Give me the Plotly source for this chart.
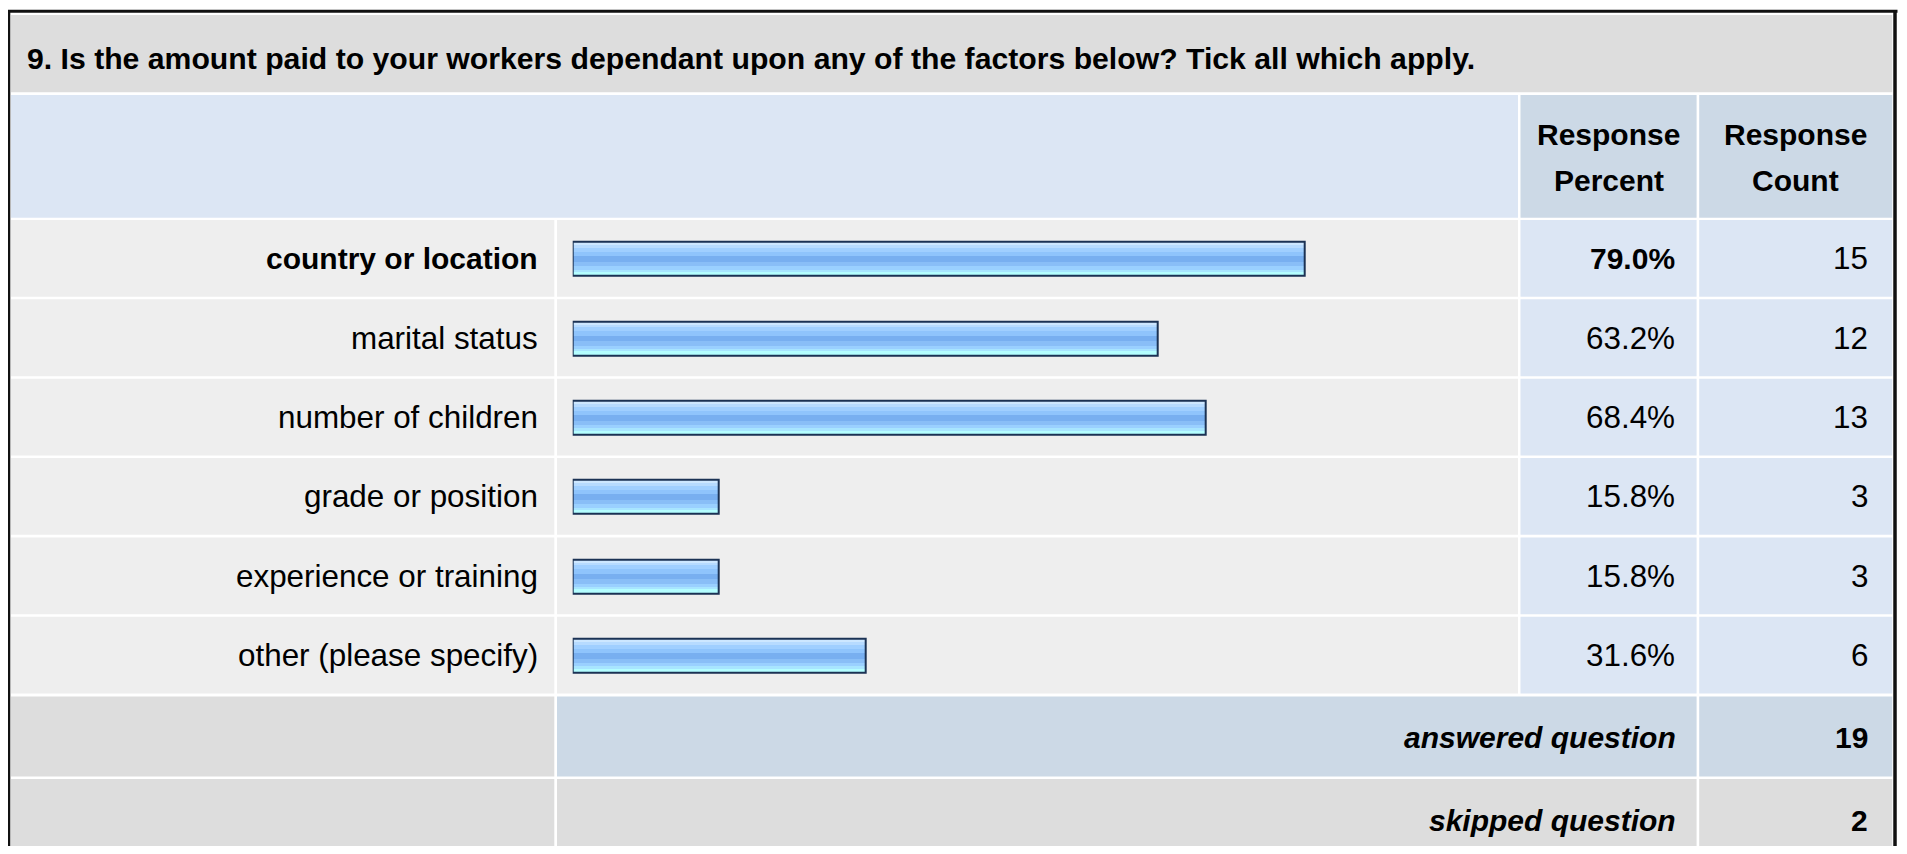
import plotly.graph_objects as go

# ---------------- data ----------------
question = ("9. Is the amount paid to your workers dependant upon any of the "
            "factors below? Tick all which apply.")
categories = ["country or location", "marital status", "number of children",
              "grade or position", "experience or training", "other (please specify)"]
response_percent = [79.0, 63.2, 68.4, 15.8, 15.8, 31.6]
response_count = [15, 12, 13, 3, 3, 6]
answered_question = 19
skipped_question = 2
header_percent = ["Response", "Percent"]
header_count = ["Response", "Count"]

# ---------------- geometry (screen pixels) ----------------
W, H = 1891, 838          # figure size; page body adds an 8px margin
OX, OY = 8, 8


def px(X):
    return (X - OX) / W


def py(Y):
    return 1 - (Y - OY) / H


FONT = "Liberation Sans, Arial, Helvetica, sans-serif"
FS_BOLD = 30
FS_REG = 31.4

C_TITLE = "#DDDDDD"
C_HEAD_L = "#DCE6F4"
C_HEAD_R = "#CCD9E6"
C_ROW = "#EEEEEE"
C_ROW_R = "#DCE6F4"
C_FOOT = "#DDDDDD"
C_FOOT_B = "#CCD9E6"

col1 = (11, 554.3)
col2 = (557, 1518)
col3 = (1520.5, 1696.6)
col4 = (1699.2, 1892.3)
title_y = (15, 92.3)
head_y = (95, 217.7)
row_top0, pitch, row_h = 220.0, 79.35, 76.8
ans_y = (696.6, 776.6)
skip_y = (779.0, 870.0)

shapes = []
annotations = []


def cell(x, y, color):
    shapes.append(dict(type="rect", xref="paper", yref="paper", layer="below",
                       x0=px(x[0]), x1=px(x[1]), y0=py(y[1]), y1=py(y[0]),
                       fillcolor=color, line=dict(width=0)))


def text(s, X, Y, anchor="right", bold=False, italic=False, size=None):
    if size is None:
        size = FS_BOLD if bold else FS_REG
    if bold:
        s = "<b>" + s + "</b>"
    if italic:
        s = "<i>" + s + "</i>"
    annotations.append(dict(text=s, x=px(X), y=py(Y), xref="paper", yref="paper",
                            xanchor=anchor, yanchor="middle", showarrow=False,
                            borderpad=0, borderwidth=0,
                            font=dict(family=FONT, size=size, color="#000000")))


# title band
cell((col1[0], col4[1]), title_y, C_TITLE)
text(question, 27, 58, anchor="left", bold=True, size=30.2)

# header
cell((col1[0], col2[1]), head_y, C_HEAD_L)
cell(col3, head_y, C_HEAD_R)
cell(col4, head_y, C_HEAD_R)
for i, (a, b) in enumerate(zip(header_percent, header_count)):
    yy = 134 + 46.5 * i
    text(a, (col3[0] + col3[1]) / 2, yy, anchor="center", bold=True)
    text(b, (col4[0] + col4[1]) / 2, yy, anchor="center", bold=True)

# data rows
top_pct = max(response_percent)
for i, (cat, p, c) in enumerate(zip(categories, response_percent, response_count)):
    y0 = row_top0 + pitch * i
    y = (y0, y0 + row_h)
    cell(col1, y, C_ROW)
    cell(col2, y, C_ROW)
    cell(col3, y, C_ROW_R)
    cell(col4, y, C_ROW_R)
    yc = y0 + row_h / 2 + 0.5
    b = (p == top_pct)
    text(cat, 537.5, yc, bold=b)
    text(f"{p:.1f}%", 1675, yc, bold=b)
    text(str(c), 1868, yc)

# footer rows
cell(col1, ans_y, C_FOOT)
cell((col2[0], col3[1]), ans_y, C_FOOT_B)
cell(col4, ans_y, C_FOOT_B)
text("answered question", 1676, (ans_y[0] + ans_y[1]) / 2 + 0.5, bold=True, italic=True)
text(str(answered_question), 1868, (ans_y[0] + ans_y[1]) / 2 + 0.5, bold=True)

cell(col1, skip_y, C_FOOT)
cell((col2[0], col3[1]), skip_y, C_FOOT)
cell(col4, skip_y, C_FOOT)
text("skipped question", 1676, 820, bold=True, italic=True)
text(str(skipped_question), 1868, 820, bold=True)

# outer frame
BORDER = "#111111"
shapes.append(dict(type="line", xref="paper", yref="paper", x0=px(5), x1=px(1897.5),
                   y0=py(11.3), y1=py(11.3), line=dict(color=BORDER, width=3)))
shapes.append(dict(type="line", xref="paper", yref="paper", x0=px(8.8), x1=px(8.8),
                   y0=py(10), y1=py(870), line=dict(color=BORDER, width=3)))
shapes.append(dict(type="line", xref="paper", yref="paper", x0=px(1895), x1=px(1895),
                   y0=py(10), y1=py(870), line=dict(color=BORDER, width=3.5)))

# ---------------- bars ----------------
bar_x0 = 572.7          # pixel position of 0 %
px_per_pct = 9.26
bar_x100 = bar_x0 + 100 * px_per_pct
band_top = row_top0 - (pitch - row_h) / 2
band_bot = band_top + pitch * len(categories)

unit = 1.0 / pitch      # category units per pixel
bar_center_shift = 0.6  # px below band centre
outline_h = 34.0        # px, border centre-line height

stripes = [  # (height px, colour) from top of inner bar
    (3.0, "#CDE7FF"),
    (2.7, "#B7DBFF"),
    (4.0, "#A0CFFF"),
    (4.3, "#8FC4FC"),
    (5.7, "#78AFF0"),
    (4.3, "#89BEF7"),
    (3.3, "#9AD0FF"),
    (2.4, "#A8E5FF"),
    (4.3, "#B4FEFF"),
]

fig = go.Figure()
top = -outline_h / 2 + bar_center_shift
for h, col in stripes:
    fig.add_trace(go.Bar(
        x=response_percent, y=categories, orientation="h",
        width=h * unit + 0.002, offset=top * unit,
        marker=dict(color=col, line=dict(width=0)),
        hoverinfo="skip", showlegend=False))
    top += h

fig.add_trace(go.Bar(
    x=response_percent, y=categories, orientation="h",
    width=outline_h * unit, offset=(-outline_h / 2 + bar_center_shift) * unit,
    marker=dict(color="rgba(0,0,0,0)", line=dict(color="#1B3254", width=2)),
    hovertemplate="%{y}: %{x:.1f}%<extra></extra>", showlegend=False))

fig.update_layout(
    width=W, height=H,
    margin=dict(l=0, r=0, t=0, b=0, pad=0),
    paper_bgcolor="#FFFFFF", plot_bgcolor="rgba(0,0,0,0)",
    barmode="overlay", bargap=0,
    xaxis=dict(domain=[px(bar_x0), px(bar_x100)], range=[0, 100], visible=False,
               fixedrange=True),
    yaxis=dict(domain=[py(band_bot), py(band_top)], type="category",
               categoryorder="array", categoryarray=categories,
               range=[len(categories) - 0.5, -0.5], visible=False, fixedrange=True),
    shapes=shapes, annotations=annotations,
    showlegend=False,
)

fig.write_html("out.html", config={"displayModeBar": False})
